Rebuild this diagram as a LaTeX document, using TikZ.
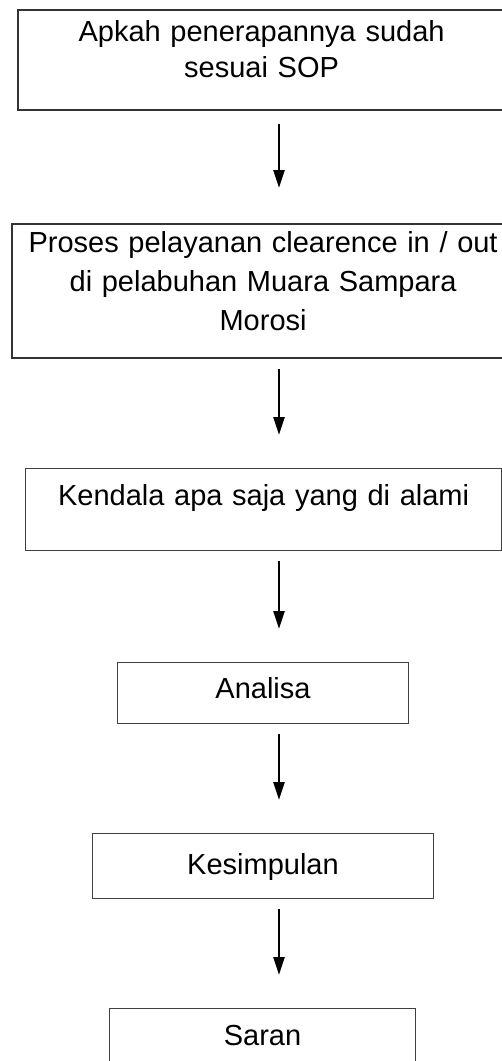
\documentclass[tikz,border=0pt]{standalone}
\usepackage{fontspec}
\setmainfont{Liberation Sans}
\usetikzlibrary{arrows.meta,positioning,calc}

\begin{document}
\begin{tikzpicture}[x=1pt, y=-1pt, font=\fontsize{29}{36}\selectfont,
  box/.style={draw=black!75, line width=1pt, inner xsep=0pt, inner ysep=0pt, align=center, anchor=north west},
  bigbox/.style={box, draw=black!80, line width=2.2pt},
  arrow/.style={-{Triangle[width=11pt,length=18pt]}, line width=2.4pt, shorten <=10pt, shorten >=33pt}]
\useasboundingbox (0,0) rectangle (502,1061);
\coordinate (ax) at (279,0);
% kotak alur
\node[bigbox, text width=487pt, text height=31pt, text depth=69pt] (sop) at (17,9) {Apkah penerapannya sudah\\ sesuai SOP};
\node[bigbox, text width=502pt, text height=28pt, text depth=106pt, font=\fontsize{29}{39}\selectfont] (proses) at (11,223) {Proses pelayanan clearence in / out\\ di pelabuhan Muara Sampara\\ Morosi};
\node[box, line width=1.3pt, text width=476pt, text height=37pt, text depth=45pt] (kendala) at (25,468) {Kendala apa saja yang di alami};
\node[box, text width=291pt, text height=36pt, text depth=25pt] (analisa) at (117,662) {Analisa};
\node[box, text width=341pt, text height=41pt, text depth=24pt] (simpul) at (92,833) {Kesimpulan};
\node[box, text width=306pt, text height=37pt, text depth=33pt] (saran) at (109,1008) {Saran};
% panah
\draw[arrow, shorten <=13pt, shorten >=35pt] (sop.south -| ax) -- (proses.north -| ax);
\draw[arrow] (proses.south -| ax) -- (kendala.north -| ax);
\draw[arrow] (kendala.south -| ax) -- (analisa.north -| ax);
\draw[arrow] (analisa.south -| ax) -- (simpul.north -| ax);
\draw[arrow] (simpul.south -| ax) -- (saran.north -| ax);
\end{tikzpicture}
\end{document}
